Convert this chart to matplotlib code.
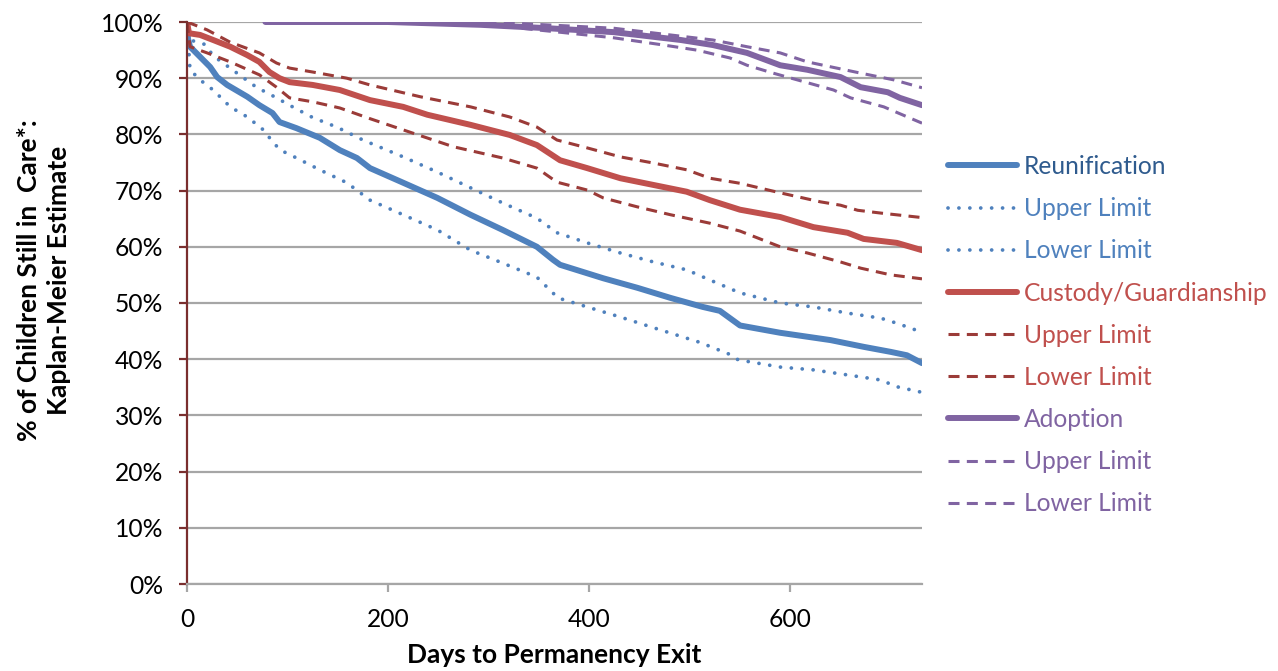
import matplotlib
matplotlib.use("Agg")
import matplotlib.pyplot as plt
from matplotlib.ticker import FuncFormatter

plt.rcParams["font.family"] = ["Lato", "DejaVu Sans"]

# Kaplan-Meier estimates (days, % still in care)
reun_days = [0, 1, 3, 13, 23, 30, 40, 60, 72, 85, 92, 109, 132, 152, 169, 182, 215, 249,
             282, 314, 348, 364, 371, 414, 448, 481, 513, 530, 540, 550, 590, 640, 673,
             700, 716, 731]
reun_pct = [100, 97, 95.6, 93.8, 92, 90.2, 88.8, 86.7, 85.2, 83.8, 82.2, 81.1, 79.4, 77.2,
            75.8, 74, 71.4, 68.7, 65.7, 63, 60, 57.7, 56.8, 54.4, 52.7, 50.9, 49.3, 48.6,
            47.3, 46, 44.7, 43.4, 42.2, 41.3, 40.7, 39.3]
reun_up_days = [0, 3, 18, 26, 36, 52, 69, 87, 105, 125, 149, 175, 215, 249, 282, 314, 348,
                368, 398, 431, 464, 497, 520, 550, 590, 623, 657, 690, 706, 731]
reun_up_pct = [100, 96.8, 96, 94, 92.7, 90.6, 88.4, 86.7, 84.9, 83, 81.3, 79, 76, 73.3, 70.5,
               67.8, 65.1, 62.5, 60.7, 58.9, 57.3, 55.9, 54.1, 51.8, 50, 49.3, 48.2, 47.3,
               46.4, 44.8]
reun_lo_days = [0, 3, 13, 26, 43, 60, 76, 86, 93, 109, 132, 159, 182, 215, 249, 282, 314,
                348, 361, 369, 398, 431, 464, 510, 542, 548, 590, 623, 657, 690, 706, 731]
reun_lo_pct = [100, 91.5, 89.7, 87.9, 84.9, 83.1, 80.8, 78.5, 77.2, 75.8, 73.7, 71.4, 68.3,
               65.7, 63, 59.4, 57.1, 54.6, 52.3, 50.9, 49.3, 47.5, 45.6, 43, 40.7, 39.9,
               38.6, 38.1, 37.2, 36.3, 35.1, 34.1]

cust_days = [0, 2, 13, 26, 43, 60, 72, 82, 92, 102, 125, 152, 182, 215, 239, 282, 321, 348,
             371, 398, 431, 464, 497, 520, 550, 590, 623, 657, 673, 706, 731]
cust_pct = [100, 98, 97.7, 96.8, 95.6, 94.1, 92.9, 91.1, 90, 89.3, 88.8, 87.9, 86.1, 84.9,
            83.5, 81.7, 79.9, 78.1, 75.4, 74, 72.2, 71, 69.8, 68.3, 66.6, 65.3, 63.5, 62.5,
            61.4, 60.7, 59.4]
cust_up_days = [0, 3, 20, 43, 72, 89, 102, 125, 159, 182, 232, 282, 321, 348, 368, 398, 431,
                464, 497, 520, 550, 590, 630, 650, 667, 690, 731]
cust_up_pct = [100, 99.8, 98.6, 96.4, 94.5, 92.7, 91.8, 91.1, 90, 88.8, 86.7, 84.9, 83.1,
               81.3, 79, 77.6, 76, 74.9, 73.7, 72.2, 71.3, 69.6, 68, 67.4, 66.5, 66, 65.2]
cust_lo_days = [0, 3, 20, 43, 72, 89, 102, 125, 152, 182, 225, 265, 314, 348, 368, 398, 414,
                448, 481, 520, 550, 590, 617, 650, 670, 700, 731]
cust_lo_pct = [100, 95.6, 94.5, 92.9, 90.6, 88.4, 86.5, 85.8, 84.7, 82.8, 80.2, 77.8, 75.8,
               74, 71.5, 70.1, 68.7, 67.1, 65.7, 64.2, 62.8, 60, 58.9, 57.3, 56.2, 55, 54.3]

adop_days = [78, 200, 292, 358, 424, 491, 523, 557, 590, 617, 650, 670, 697, 709, 731]
adop_pct = [100, 100, 99.5, 98.9, 98.2, 96.8, 95.9, 94.5, 92.3, 91.5, 90.2, 88.4, 87.5,
            86.5, 85.2]
adop_up_days = [78, 300, 424, 523, 557, 590, 617, 670, 703, 731]
adop_up_pct = [100, 100, 98.9, 96.8, 95.6, 94.5, 92.9, 90.9, 89.7, 88.3]
adop_lo_days = [78, 280, 310, 424, 474, 507, 540, 557, 583, 643, 660, 693, 731]
adop_lo_pct = [100, 100, 99.3, 97.2, 95.9, 95, 93.6, 92.3, 90.9, 87.9, 86.5, 84.9, 82]

BLUE = "#4F81BD"
RED = "#C0504D"
DRED = "#9B3B38"
PURPLE = "#8064A2"
GRID = "#A6A6A6"
AXIS = "#7A2E2E"

fig = plt.figure(figsize=(12.78, 6.71), dpi=100)
ax = fig.add_axes([187 / 1278, 1 - 584 / 671, 735 / 1278, 562 / 671])

dot = dict(linestyle=(0, (0.01, 2.9)), dash_capstyle="round", lw=2.7)
dash = dict(linestyle=(0, (3.6, 2.4)), lw=2.2)
solid = dict(lw=4.3, solid_capstyle="round")

pct = lambda v: [x / 100 for x in v]
ax.plot(reun_days, pct(reun_pct), color=BLUE, label="Reunification", **solid)
ax.plot(reun_up_days, pct(reun_up_pct), color=BLUE, label="Upper Limit", **dot)
ax.plot(reun_lo_days, pct(reun_lo_pct), color=BLUE, label="Lower Limit", **dot)
ax.plot(cust_days, pct(cust_pct), color=RED, label="Custody/Guardianship", **solid)
ax.plot(cust_up_days, pct(cust_up_pct), color=DRED, label="Upper Limit", **dash)
ax.plot(cust_lo_days, pct(cust_lo_pct), color=DRED, label="Lower Limit", **dash)
ax.plot(adop_days, pct(adop_pct), color=PURPLE, label="Adoption", **solid)
ax.plot(adop_up_days, pct(adop_up_pct), color=PURPLE, label="Upper Limit", **dash)
ax.plot(adop_lo_days, pct(adop_lo_pct), color=PURPLE, label="Lower Limit", **dash)

ax.set_xlim(0, 731)
ax.set_ylim(0, 1)
ax.set_xticks([0, 200, 400, 600])
ax.set_yticks([i / 10 for i in range(11)])
ax.yaxis.set_major_formatter(FuncFormatter(lambda v, _: f"{v:.0%}"))
ax.grid(axis="y", color=GRID, lw=1.6)
ax.set_axisbelow(True)
for s in ("top", "right"):
    ax.spines[s].set_visible(False)
ax.spines["left"].set_color(AXIS)
ax.spines["left"].set_linewidth(1.6)
ax.spines["bottom"].set_color(GRID)
ax.spines["bottom"].set_linewidth(1.6)
ax.tick_params(axis="y", colors=AXIS, length=6, width=1.6, labelsize=17.7,
               labelcolor="black", pad=11)
ax.tick_params(axis="x", colors=GRID, length=6, width=1.6, labelsize=17.7,
               labelcolor="black", pad=11)

ax.set_xlabel("Days to Permanency Exit", fontsize=19, fontweight="bold")
ax.xaxis.set_label_coords(0.5, -0.105)
ax.set_ylabel("% of Children Still in  Care*:\nKaplan-Meier Estimate", fontsize=19,
              fontweight="bold", linespacing=1.3)
ax.yaxis.set_label_coords(-0.158, 0.54)

leg = fig.legend(loc="upper left", bbox_to_anchor=(948 / 1278, 1 - 155 / 671),
                 frameon=False, fontsize=17.7, handlelength=2.8, handletextpad=0.3,
                 labelspacing=0.78, borderpad=0, borderaxespad=0)
text_colors = ["#2F5B8E", BLUE, BLUE, RED, RED, RED, PURPLE, PURPLE, PURPLE]
for t, c in zip(leg.get_texts(), text_colors):
    t.set_color(c)

fig.savefig("out.png", dpi=100)
